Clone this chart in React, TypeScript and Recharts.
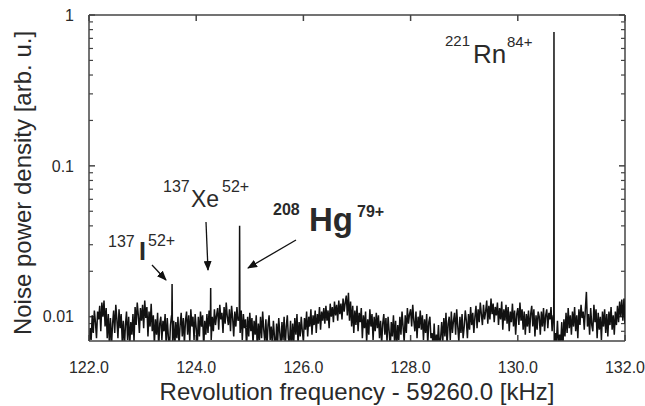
import {
  LineChart,
  Line,
  XAxis,
  YAxis,
  Customized,
} from "recharts";

// noise floor, sampled every 0.02 kHz from 122.0 (values in 1e-4 arb. u.)
const NOISE_START = 122;
const NOISE_STEP = 0.02;
const noise = [
  62, 84, 70, 102, 78, 110, 92, 72, 108, 96,
  118, 80, 124, 100, 128, 86, 114, 72, 104, 66,
  98, 64, 90, 110, 78, 120, 96, 72, 112, 84,
  104, 68, 94, 62, 88, 108, 70, 100, 64, 92,
  76, 104, 68, 116, 88, 124, 102, 78, 114, 94,
  120, 84, 128, 98, 116, 74, 108, 86, 122, 80,
  102, 66, 96, 76, 106, 62, 90, 100, 70, 94,
  80, 104, 64, 98, 74, 60, 88, 102, 68, 94,
  62, 92, 72, 100, 64, 88, 106, 74, 98, 66,
  94, 108, 76, 102, 68, 112, 86, 100, 70, 104,
  84, 64, 100, 74, 108, 86, 102, 62, 94, 76,
  104, 78, 110, 86, 70, 100, 80, 112, 88, 102,
  114, 82, 120, 96, 106, 78, 116, 90, 124, 100,
  88, 112, 80, 118, 98, 74, 108, 86, 116, 94,
  100, 78, 110, 70, 104, 84, 96, 62, 100, 74,
  106, 80, 98, 66, 94, 76, 102, 60, 90, 70,
  100, 72, 108, 82, 68, 96, 62, 88, 102, 70,
  86, 64, 94, 74, 58, 90, 68, 98, 78, 62,
  92, 70, 100, 62, 86, 102, 72, 66, 94, 60,
  90, 68, 98, 76, 104, 66, 92, 74, 100, 80,
  70, 98, 82, 108, 74, 100, 86, 112, 76, 102,
  88, 110, 78, 104, 90, 116, 82, 108, 94, 114,
  90, 118, 94, 110, 84, 122, 100, 116, 92, 126,
  102, 120, 94, 128, 104, 122, 96, 132, 108, 124,
  138, 102, 144, 94, 126, 86, 118, 78, 110, 88,
  118, 80, 106, 92, 114, 72, 102, 84, 108, 68,
  96, 76, 112, 86, 104, 70, 100, 80, 106, 84,
  102, 72, 94, 66, 90, 104, 76, 98, 68, 100,
  80, 62, 92, 74, 102, 68, 94, 60, 88, 70,
  100, 76, 108, 86, 68, 102, 78, 114, 90, 104,
  112, 86, 120, 94, 80, 108, 72, 100, 84, 110,
  82, 102, 70, 96, 78, 104, 66, 92, 100, 72,
  78, 64, 90, 60, 76, 66, 88, 62, 72, 92,
  68, 98, 74, 106, 64, 90, 100, 70, 108, 78,
  94, 106, 76, 112, 86, 68, 100, 78, 104, 72,
  86, 110, 94, 72, 104, 82, 116, 88, 106, 78,
  100, 118, 84, 112, 92, 124, 104, 88, 120, 96,
  108, 128, 90, 118, 96, 132, 104, 122, 92, 116,
  102, 124, 88, 114, 96, 126, 82, 112, 94, 120,
  90, 116, 80, 108, 92, 122, 86, 110, 76, 104,
  114, 88, 124, 94, 112, 82, 108, 76, 104, 86,
  110, 78, 104, 118, 86, 112, 74, 102, 82, 108,
  100, 76, 108, 86, 114, 80, 102, 112, 84, 106,
  96, 116, 80, 102, 64, 78, 68, 94, 62, 76,
  66, 92, 60, 96, 74, 106, 78, 114, 84, 102,
  76, 108, 86, 116, 80, 102, 72, 112, 88, 120,
  98, 108, 82, 112, 146, 86, 104, 76, 114, 88,
  80, 120, 92, 112, 72, 106, 82, 100, 70, 108,
  86, 112, 78, 104, 74, 108, 88, 116, 82, 102,
  76, 108, 88, 118, 92, 126, 100, 130, 94, 132,
  90,
];

// ion lines: frequency [kHz] and power [arb. u.], with the floor on each side
const peakFreq = [
  123.544, 123.55, 123.556,
  124.264, 124.27, 124.276,
  124.804, 124.81, 124.816,
  130.671, 130.675, 130.679,
];
const peakPower = [
  0.0092, 0.0165, 0.009,
  0.0088, 0.0155, 0.0086,
  0.0094, 0.04, 0.0092,
  0.0098, 0.77, 0.0082,
];

const xTicks = [122, 124, 126, 128, 130, 132];
const yTicks = [0.01, 0.1, 1];
const yMinorTicks = [
  0.008, 0.009, 0.02, 0.03, 0.04, 0.05, 0.06, 0.07, 0.08, 0.09,
  0.2, 0.3, 0.4, 0.5, 0.6, 0.7, 0.8, 0.9,
];

const spectrum = [
  ...noise.map((v, i) => ({ f: NOISE_START + i * NOISE_STEP, p: v * 1e-4 })),
  ...peakFreq.map((f, i) => ({ f, p: peakPower[i] })),
].sort((a, b) => a.f - b.f);

const FONT = "'Liberation Sans', Arial, sans-serif";
const AXIS = "#444";
const TEXT = "#2a2a2a";

// plot box, must match the chart margins / axis sizes below
const X_DOMAIN = [122, 132];
const Y_DOMAIN = [0.0069, 1];
const BOX = { left: 89, top: 15, right: 625, bottom: 341 };

const px = (f: number) =>
  BOX.left + ((f - X_DOMAIN[0]) / (X_DOMAIN[1] - X_DOMAIN[0])) * (BOX.right - BOX.left);
const py = (v: number) =>
  BOX.top +
  ((Math.log10(Y_DOMAIN[1]) - Math.log10(v)) /
    (Math.log10(Y_DOMAIN[1]) - Math.log10(Y_DOMAIN[0]))) *
    (BOX.bottom - BOX.top);

// inward ticks on all four sides, plus the top/right frame
function Frame() {
  return (
    <g stroke={AXIS} fill='none'>
      <line x1={BOX.left} y1={BOX.top} x2={BOX.right} y2={BOX.top} strokeWidth={1.5} />
      <line x1={BOX.right} y1={BOX.top} x2={BOX.right} y2={BOX.bottom} strokeWidth={1.5} />
      {xTicks.map((t) => (
        <g key={`x${t}`} strokeWidth={1.5}>
          <line x1={px(t)} y1={BOX.bottom} x2={px(t)} y2={BOX.bottom - 6} />
          <line x1={px(t)} y1={BOX.top} x2={px(t)} y2={BOX.top + 6} />
        </g>
      ))}
      {yTicks.map((t) => (
        <g key={`y${t}`} strokeWidth={1.5}>
          <line x1={BOX.left} y1={py(t)} x2={BOX.left + 6} y2={py(t)} />
          <line x1={BOX.right} y1={py(t)} x2={BOX.right - 6} y2={py(t)} />
        </g>
      ))}
      {yMinorTicks.map((t) => (
        <g key={`m${t}`} strokeWidth={1.2}>
          <line x1={BOX.left} y1={py(t)} x2={BOX.left + 4} y2={py(t)} />
          <line x1={BOX.right} y1={py(t)} x2={BOX.right - 4} y2={py(t)} />
        </g>
      ))}
    </g>
  );
}

function Annotations() {
  return (
    <g fontFamily={FONT} fill={TEXT}>
      <defs>
        <marker
          id='head'
          markerWidth='10'
          markerHeight='8'
          refX='9'
          refY='4'
          orient='auto'
          markerUnits='userSpaceOnUse'
        >
          <path d='M0,0 L10,4 L0,8 z' fill='#111' />
        </marker>
      </defs>

      <Frame />

      <text
        transform='translate(22,183) rotate(-90)'
        textAnchor='middle'
        dominantBaseline='central'
        fontSize={24}
      >
        Noise power density [arb. u.]
      </text>

      {/* 137I52+ */}
      <text x={108} y={247} fontSize={16}>137</text>
      <text x={139} y={260} fontSize={25} fontWeight='bold'>I</text>
      <text x={148} y={246} fontSize={16}>52+</text>
      <line x1={152} y1={265} x2={166} y2={280} stroke='#111' strokeWidth={1.3} markerEnd='url(#head)' />

      {/* 137Xe52+ */}
      <text x={163} y={192} fontSize={16}>137</text>
      <text x={191} y={207} fontSize={23}>Xe</text>
      <text x={222} y={192} fontSize={16}>52+</text>
      <line x1={206} y1={222} x2={208} y2={270} stroke='#111' strokeWidth={1.3} markerEnd='url(#head)' />

      {/* 208Hg79+ */}
      <text x={273} y={215} fontSize={16} fontWeight='bold'>208</text>
      <text x={309} y={231} fontSize={33} fontWeight='bold'>Hg</text>
      <text x={357} y={217} fontSize={16} fontWeight='bold'>79+</text>
      <line x1={296} y1={240} x2={248} y2={268} stroke='#111' strokeWidth={1.3} markerEnd='url(#head)' />

      {/* 221Rn84+ */}
      <text x={445} y={46} fontSize={15}>221</text>
      <text x={473} y={63} fontSize={26}>Rn</text>
      <text x={507} y={47} fontSize={15}>84+</text>
    </g>
  );
}

export default function App() {
  const tickStyle = { fill: TEXT, fontSize: 16, fontFamily: FONT };

  return (
    <div style={{ position: "absolute", left: 0, top: 0, fontFamily: FONT }}>
      <LineChart
        width={645}
        height={406}
        data={spectrum}
        margin={{ top: BOX.top, right: 645 - BOX.right, bottom: 0, left: 0 }}
      >
        <XAxis
          dataKey='f'
          type='number'
          domain={X_DOMAIN}
          allowDataOverflow
          ticks={xTicks}
          tickFormatter={(v: number) => v.toFixed(1)}
          height={406 - BOX.bottom}
          tickLine={false}
          tickMargin={15}
          tick={tickStyle}
          stroke={AXIS}
          strokeWidth={1.5}
          label={{
            value: "Revolution frequency - 59260.0 [kHz]",
            position: "insideBottom",
            offset: 6,
            fill: TEXT,
            fontSize: 24,
            fontFamily: FONT,
          }}
        />
        <YAxis
          scale='log'
          domain={Y_DOMAIN}
          allowDataOverflow
          ticks={yTicks}
          tickFormatter={(v: number) => String(v)}
          width={BOX.left}
          tickLine={false}
          tickMargin={9}
          tick={tickStyle}
          stroke={AXIS}
          strokeWidth={1.5}
        />
        <Line
          type='linear'
          dataKey='p'
          stroke='#111'
          strokeWidth={1.5}
          dot={false}
          activeDot={false}
          isAnimationActive={false}
        />
        <Customized component={<Annotations />} />
      </LineChart>
    </div>
  );
}
